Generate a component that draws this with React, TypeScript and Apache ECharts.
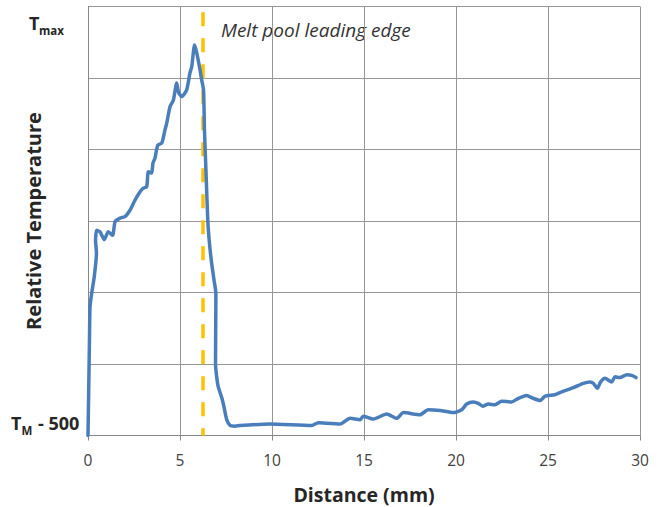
import React, { useEffect, useRef } from "react";
import * as echarts from "echarts";

// Distance (mm) and relative temperature (grid units: 0 = T_M - 500 ... 6 = top)
const distance: number[] = [
  0.0, 0.03, 0.08, 0.11, 0.2, 0.34, 0.46, 0.41, 0.47, 0.65, 0.89, 1.1, 1.34, 1.47, 1.74, 2.01, 2.28,
  2.55, 2.83, 3.01, 3.19, 3.28, 3.46, 3.53, 3.64, 3.79, 4.01, 4.18, 4.28, 4.46, 4.64, 4.82, 4.92,
  5.09, 5.36, 5.54, 5.64, 5.79, 5.91, 6.09, 6.18, 6.28, 6.33, 6.41, 6.51, 6.6, 6.72, 6.85, 6.95,
  6.94, 6.93, 6.98, 7.08, 7.28, 7.39, 7.54, 7.72, 7.99, 8.26, 9.89, 12.16, 12.52, 12.97, 13.7,
  14.24, 14.78, 14.96, 15.51, 16.23, 16.78, 17.14, 18.04, 18.49, 19.13, 19.85, 20.31, 20.58,
  20.94, 21.21, 21.45, 21.76, 22.12, 22.48, 23.03, 23.39, 23.84, 24.2, 24.57, 24.84, 25.38,
  25.74, 26.38, 26.92, 27.28, 27.46, 27.68, 27.86, 28.1, 28.46, 28.64, 28.91, 29.28, 29.55, 29.78,
];
const temperature: number[] = [
  0.0, 0.5, 1.34, 1.8, 1.99, 2.22, 2.55, 2.73, 2.87, 2.85, 2.74, 2.85, 2.8, 2.99, 3.04, 3.06, 3.15,
  3.29, 3.41, 3.46, 3.48, 3.69, 3.67, 3.81, 3.88, 4.06, 4.09, 4.27, 4.37, 4.6, 4.69, 4.93, 4.8,
  4.74, 4.83, 5.07, 5.16, 5.46, 5.35, 5.11, 4.97, 4.83, 4.27, 3.71, 3.01, 2.69, 2.41, 2.17, 1.99,
  1.48, 1.01, 0.85, 0.68, 0.52, 0.4, 0.22, 0.14, 0.13, 0.14, 0.16, 0.14, 0.18, 0.17, 0.16,
  0.24, 0.22, 0.27, 0.23, 0.3, 0.24, 0.32, 0.29, 0.36, 0.35, 0.32, 0.36, 0.44,
  0.47, 0.45, 0.41, 0.44, 0.43, 0.48, 0.47, 0.52, 0.56, 0.52, 0.49, 0.55, 0.57,
  0.61, 0.67, 0.73, 0.75, 0.73, 0.66, 0.75, 0.8, 0.75, 0.82, 0.81, 0.85, 0.84, 0.81,
];
const leadingEdgeX = 6.25;
const leadingEdgeSpan: number[] = [5.92, 0];
const xTicks = { min: 0, max: 30, interval: 5 };
const yTicks = { min: 0, max: 6, interval: 1 };
const edgeLabel = "Melt pool leading edge";
const xTitle = "Distance (mm)";
const yTitle = "Relative Temperature";

const FONT = "'Open Sans', 'Liberation Sans', sans-serif";
const TXT = "#262626";

export default function App() {
  const ref = useRef<HTMLDivElement>(null);
  useEffect(() => {
    if (!ref.current) return;
    const chart = echarts.init(ref.current, null, { renderer: "svg" });
    const lineData = distance.map((d, i) => [d, temperature[i]]);
    chart.setOption({
      animation: false,
      backgroundColor: "#ffffff",
      grid: { left: 88, top: 6.5, right: 24, bottom: 71.5, containLabel: false },
      xAxis: {
        type: "value",
        min: xTicks.min,
        max: xTicks.max,
        interval: xTicks.interval,
        axisLine: { show: true, onZero: false, lineStyle: { color: "#868686", width: 1 } },
        axisTick: { show: true, length: 5, lineStyle: { color: "#868686" } },
        axisLabel: { fontSize: 15.5, color: "#404040", fontFamily: FONT, margin: 16 },
        splitLine: { show: true, lineStyle: { color: "#969696", width: 1 } },
      },
      yAxis: {
        type: "value",
        min: yTicks.min,
        max: yTicks.max,
        interval: yTicks.interval,
        axisLine: { show: true, onZero: false, lineStyle: { color: "#868686", width: 1 } },
        axisTick: { show: false },
        axisLabel: { show: false },
        splitLine: { show: true, lineStyle: { color: "#969696", width: 1 } },
      },
      series: [
        {
          type: "line",
          data: leadingEdgeSpan.map((v) => [leadingEdgeX, v]),
          showSymbol: false,
          silent: true,
          lineStyle: { color: "#ffc000", width: 3.5, type: [14, 12] },
          z: 2,
        },
        {
          type: "line",
          data: lineData,
          showSymbol: false,
          smooth: 0.2,
          lineStyle: { color: "#4a7ebb", width: 3.5, cap: "round", join: "round" },
          z: 3,
        },
      ],
      graphic: [
        {
          type: "text",
          left: 221,
          top: 20,
          style: { text: edgeLabel, fontSize: 19, fontStyle: "italic", fontFamily: FONT, fill: "#333333" },
        },
        {
          type: "text",
          x: 364,
          y: 494,
          style: { text: xTitle, fontSize: 19.5, fontWeight: "bold", fontFamily: FONT, fill: TXT, align: "center", verticalAlign: "middle" },
        },
        {
          type: "text",
          x: 33,
          y: 221,
          rotation: Math.PI / 2,
          style: { text: yTitle, fontSize: 20, fontWeight: "bold", fontFamily: FONT, fill: TXT, align: "center", verticalAlign: "middle" },
        },
        {
          type: "text",
          x: 29,
          y: 23,
          style: { text: "T", fontSize: 18, fontWeight: "bold", fontFamily: FONT, fill: TXT, verticalAlign: "middle" },
        },
        {
          type: "text",
          x: 39,
          y: 30,
          style: { text: "max", fontSize: 11.5, fontWeight: "bold", fontFamily: FONT, fill: TXT, verticalAlign: "middle" },
        },
        {
          type: "text",
          x: 11,
          y: 423,
          style: { text: "T", fontSize: 18, fontWeight: "bold", fontFamily: FONT, fill: TXT, verticalAlign: "middle" },
        },
        {
          type: "text",
          x: 21.5,
          y: 430,
          style: { text: "M", fontSize: 11.5, fontWeight: "bold", fontFamily: FONT, fill: TXT, verticalAlign: "middle" },
        },
        {
          type: "text",
          x: 38,
          y: 423,
          style: { text: "- 500", fontSize: 18, fontWeight: "bold", fontFamily: FONT, fill: TXT, verticalAlign: "middle" },
        },
      ],
    });
    return () => chart.dispose();
  }, []);
  return <div ref={ref} style={{ position: "fixed", left: 0, top: 0, width: 664, height: 507 }} />;
}
